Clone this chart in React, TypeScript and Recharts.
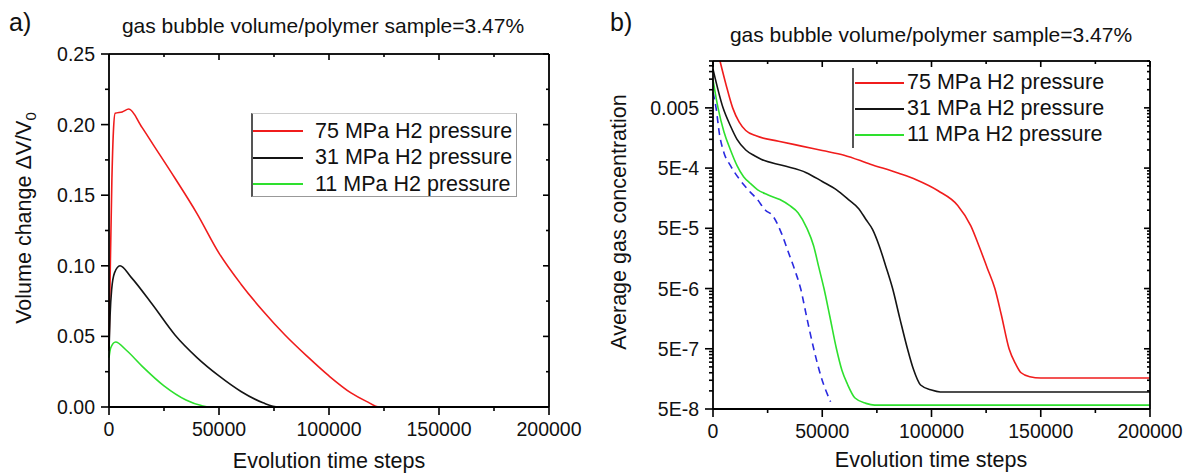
import React from 'react';
import { LineChart, Line, XAxis, YAxis, Legend } from 'recharts';

const FONT = '"Liberation Sans", Arial, Helvetica, sans-serif';

// a) volume change dV/V0 against evolution time steps, [t, value]
const vol75 = [
  [0, 0.04], [600, 0.1], [1300, 0.16], [2000, 0.195], [2800, 0.208], [6000, 0.209],
  [9000, 0.211], [15000, 0.198], [20000, 0.186], [30000, 0.162], [40000, 0.137],
  [50000, 0.109], [60000, 0.087], [70000, 0.068], [80000, 0.051], [90000, 0.036],
  [100000, 0.022], [110000, 0.01], [117000, 0.004], [123000, 0], [200000, 0],
];
const vol31 = [
  [0, 0.04], [500, 0.065], [1200, 0.083], [2500, 0.095], [5000, 0.1], [10000, 0.092],
  [20000, 0.072], [30000, 0.051], [40000, 0.035], [50000, 0.022], [60000, 0.011],
  [70000, 0.003], [77000, 0], [200000, 0],
];
const vol11 = [
  [0, 0.035], [800, 0.042], [3000, 0.046], [8000, 0.04], [15000, 0.029], [25000, 0.015],
  [35000, 0.005], [42000, 0.001], [46000, 0], [200000, 0],
];

// b) average gas concentration against evolution time steps, [t, value]
// (the 75 MPa curve enters the frame at the top edge)
const conc75 = [
  [3200, 0.03], [6000, 0.012], [9000, 0.005], [12000, 0.0029], [15000, 0.0021],
  [20000, 0.0017], [30000, 0.0014], [40000, 0.00117], [50000, 0.00098], [60000, 0.00082],
  [72000, 0.00058], [85000, 0.00041], [93000, 0.00032], [103000, 0.00021], [112000, 0.00012],
  [118000, 5.5e-5], [122000, 2.4e-5], [125500, 1.1e-5], [129000, 5e-6], [132000, 1.8e-6],
  [135500, 5e-7], [138500, 2.8e-7], [141000, 2e-7], [145000, 1.72e-7], [150000, 1.64e-7],
  [200000, 1.64e-7],
];
const conc31 = [
  [0, 0.022], [4600, 0.005], [8000, 0.0025], [11000, 0.0015], [15000, 0.001], [19000, 0.0008],
  [22000, 0.0007], [32000, 0.00055], [42700, 0.00042], [50000, 0.0003], [56400, 0.00022],
  [62000, 0.00015], [66800, 0.000105], [70000, 7e-5], [73000, 4.8e-5], [76000, 2.6e-5],
  [79000, 1.2e-5], [82200, 5e-6], [85500, 1.6e-6], [89000, 5e-7], [91700, 2.3e-7],
  [95000, 1.25e-7], [100000, 1.03e-7], [104000, 9.6e-8], [200000, 9.6e-8],
];
const conc11 = [
  [0, 0.0146], [2300, 0.005], [5000, 0.002], [8000, 0.001], [11000, 0.00055], [14000, 0.00036],
  [17000, 0.00028], [20300, 0.00022], [25000, 0.00018], [30600, 0.00015], [35000, 0.00012],
  [39000, 9e-5], [43000, 5e-5], [46000, 2.6e-5], [48500, 1.1e-5], [50800, 5e-6],
  [53500, 1.7e-6], [56500, 5e-7], [59000, 2.2e-7], [61500, 1.3e-7], [65000, 7.6e-8],
  [70000, 6.2e-8], [74000, 5.8e-8], [200000, 5.8e-8],
];
const concDashed = [
  [0, 0.009], [1400, 0.005], [3000, 0.0018], [5000, 0.0009], [8000, 0.00055], [12000, 0.00033],
  [16000, 0.00022], [20300, 0.00015], [24000, 0.0001], [27200, 8.2e-5], [31500, 4e-5],
  [34500, 2e-5], [37500, 1e-5], [40100, 5e-6], [43000, 1.6e-6], [46100, 5e-7],
  [49500, 1.7e-7], [53800, 6.6e-8],
];

const seriesNames = ['75 MPa H2 pressure', '31 MPa H2 pressure', '11 MPa H2 pressure'];
const seriesColors = ['#f01c1c', '#141414', '#2ee02e'];
const dashedColor = '#2a2ae0';

const timeTicks = [0, 50000, 100000, 150000, 200000];
const timeMinor = [25000, 75000, 125000, 175000];
const volTicks = [0, 0.05, 0.1, 0.15, 0.2, 0.25];
const volTickLabels = ['0.00', '0.05', '0.10', '0.15', '0.20', '0.25'];
const volMinor = [0.025, 0.075, 0.125, 0.175, 0.225];
const concTicks = [5e-8, 5e-7, 5e-6, 5e-5, 5e-4, 0.005];
const concTickLabels = ['5E-8', '5E-7', '5E-6', '5E-5', '5E-4', '0.005'];
const concTop = 0.03;
const concMinorFactors = [2, 3, 4, 5, 6, 7, 8, 9];
const concMinor = concTicks.flatMap((m) => concMinorFactors.map((k) => m * k)).filter((v) => v < concTop);

const toPts = (arr: number[][]) => arr.map(([t, v]) => ({ t, v }));

const TICK_FS = 19.5;
const AXIS = { stroke: '#000', strokeWidth: 1.8 };
const TW = 1.6;
const FW = 1.8;

// plot boxes (px) of the two panels
const A_W = 440;
const A_H = 353;
const B_W = 437;
const B_H = 348;

// y ticks: outward on the left axis, mirrored inward on the right edge, top edge closes the frame
const leftTick = (majors: number[], labels: string[], top: number, plotW: number) => (p: any) => {
  const v = p.payload.value;
  const i = majors.indexOf(v);
  const out = i >= 0 ? 8 : 4;
  const inn = i >= 0 ? 6 : 3;
  return (
    <g>
      <rect x={p.x - out} y={p.y - TW / 2} width={out} height={TW} fill="#000" />
      <rect x={p.x + plotW - inn} y={p.y - TW / 2} width={inn} height={TW} fill="#000" />
      {v === top && <rect x={p.x} y={p.y - FW / 2} width={plotW} height={FW} fill="#000" />}
      {i >= 0 && (
        <text x={p.x - 14} y={p.y + 7} textAnchor="end" fontSize={TICK_FS} fontFamily={FONT} fill="#111">
          {labels[i]}
        </text>
      )}
    </g>
  );
};

// x ticks: outward on the bottom axis, mirrored inward on the top edge, last tick closes the frame
const bottomTick = (plotH: number) => (p: any) => {
  const v = p.payload.value;
  const major = timeTicks.includes(v);
  const out = major ? 8 : 4;
  const inn = major ? 6 : 3;
  return (
    <g>
      <rect x={p.x - TW / 2} y={p.y} width={TW} height={out} fill="#000" />
      <rect x={p.x - TW / 2} y={p.y - plotH} width={TW} height={inn} fill="#000" />
      {v === 200000 && <rect x={p.x - FW / 2} y={p.y - plotH} width={FW} height={plotH} fill="#000" />}
      {major && (
        <text x={p.x} y={p.y + 29} textAnchor="middle" fontSize={TICK_FS} fontFamily={FONT} fill="#111">
          {v}
        </text>
      )}
    </g>
  );
};

interface LegendOpts {
  w: number;
  h: number;
  row: number;
  padTop: number;
  lineX: number;
  lineW: number;
  gap: number;
  box: boolean;
}

const makeLegend = (o: LegendOpts) => (props: any) => {
  const items = (props.payload || [])
    .filter((e: any) => seriesNames.includes(e.value))
    .sort((a: any, b: any) => seriesNames.indexOf(a.value) - seriesNames.indexOf(b.value));
  return (
    <div
      style={{
        width: o.w,
        height: o.h,
        boxSizing: 'border-box',
        borderLeft: '2px solid #555',
        borderRight: o.box ? '1px solid #999' : 'none',
        borderBottom: o.box ? '1px solid #999' : 'none',
        borderTop: o.box ? '1px solid #ccc' : 'none',
        paddingTop: o.padTop,
        fontFamily: FONT,
      }}
    >
      {items.map((e: any) => (
        <div key={e.value} style={{ display: 'flex', alignItems: 'center', height: o.row }}>
          <svg width={o.lineW} height={6} style={{ marginLeft: o.lineX, flex: 'none' }}>
            <line x1={0} y1={3} x2={o.lineW} y2={3} stroke={e.color} strokeWidth={2} />
          </svg>
          <span style={{ marginLeft: o.gap, fontSize: 21.5, color: '#111', whiteSpace: 'nowrap', lineHeight: 1 }}>
            {e.value}
          </span>
        </div>
      ))}
    </div>
  );
};

const legendA = makeLegend({ w: 266, h: 84, row: 26.5, padTop: 4, lineX: 0, lineW: 50, gap: 12, box: true });
const legendB = makeLegend({ w: 270, h: 80, row: 26, padTop: 2, lineX: 1, lineW: 49, gap: 3, box: false });

const textStyle = { fontFamily: FONT, fill: '#111' };

export default function App() {
  const volData = [vol75, vol31, vol11].map(toPts);
  const concData = [conc75, conc31, conc11].map(toPts);

  return (
    <div style={{ position: 'absolute', left: 0, top: 0, width: 1185, height: 473, overflow: 'hidden', background: '#fff' }}>
      <svg width={1185} height={473} style={{ position: 'absolute', left: 0, top: 0 }}>
        <text x={9} y={31} fontSize={25} {...textStyle}>a)</text>
        <text x={610} y={31} fontSize={25} {...textStyle}>b)</text>
        <text x={323} y={33} fontSize={21} textAnchor="middle" {...textStyle}>
          gas bubble volume/polymer sample=3.47%
        </text>
        <text x={931} y={42} fontSize={21} textAnchor="middle" {...textStyle}>
          gas bubble volume/polymer sample=3.47%
        </text>
        <text transform="translate(31,218) rotate(-90)" fontSize={21.5} textAnchor="middle" {...textStyle}>
          Volume change ΔV/V<tspan fontSize={15} dy={5}>0</tspan>
        </text>
        <text transform="translate(626,222) rotate(-90)" fontSize={21.5} textAnchor="middle" {...textStyle}>
          Average gas concentration
        </text>
        <text x={329} y={468} fontSize={21.5} textAnchor="middle" {...textStyle}>Evolution time steps</text>
        <text x={931} y={467} fontSize={21.5} textAnchor="middle" {...textStyle}>Evolution time steps</text>
      </svg>

      <div style={{ position: 'absolute', left: 0, top: 0 }}>
        <LineChart width={600} height={473} margin={{ top: 54, right: 51, bottom: 0, left: 0 }}>
          <XAxis
            xAxisId="b"
            dataKey="t"
            type="number"
            domain={[0, 200000]}
            ticks={[...timeTicks, ...timeMinor]}
            interval={0}
            tickSize={0}
            tickMargin={0}
            tickLine={false}
            axisLine={AXIS}
            height={66}
            tick={bottomTick(A_H)}
          />
          <YAxis
            yAxisId="l"
            type="number"
            domain={[0, 0.25]}
            ticks={[...volTicks, ...volMinor]}
            interval={0}
            tickSize={0}
            tickMargin={0}
            tickLine={false}
            axisLine={AXIS}
            width={109}
            tick={leftTick(volTicks, volTickLabels, 0.25, A_W)}
          />
          {volData.map((d, i) => (
            <Line
              key={seriesNames[i]}
              xAxisId="b"
              yAxisId="l"
              data={d}
              dataKey="v"
              name={seriesNames[i]}
              type="monotone"
              stroke={seriesColors[i]}
              strokeWidth={1.6}
              dot={false}
              activeDot={false}
              isAnimationActive={false}
            />
          ))}
          <Legend
            layout="vertical"
            align="center"
            verticalAlign="middle"
            wrapperStyle={{ left: 251, top: 113, width: 266, height: 84 }}
            content={legendA}
          />
        </LineChart>
      </div>

      <div style={{ position: 'absolute', left: 600, top: 0 }}>
        <LineChart width={585} height={473} margin={{ top: 61, right: 35, bottom: 0, left: 0 }}>
          <XAxis
            xAxisId="b"
            dataKey="t"
            type="number"
            domain={[0, 200000]}
            ticks={[...timeTicks, ...timeMinor]}
            interval={0}
            tickSize={0}
            tickMargin={0}
            tickLine={false}
            axisLine={AXIS}
            height={64}
            tick={bottomTick(B_H)}
          />
          <YAxis
            yAxisId="l"
            type="number"
            scale="log"
            domain={[5e-8, concTop]}
            ticks={[...concTicks, ...concMinor, concTop]}
            interval={0}
            tickSize={0}
            tickMargin={0}
            tickLine={false}
            axisLine={AXIS}
            width={113}
            tick={leftTick(concTicks, concTickLabels, concTop, B_W)}
          />
          {concData.map((d, i) => (
            <Line
              key={seriesNames[i]}
              xAxisId="b"
              yAxisId="l"
              data={d}
              dataKey="v"
              name={seriesNames[i]}
              type="monotone"
              stroke={seriesColors[i]}
              strokeWidth={1.6}
              dot={false}
              activeDot={false}
              isAnimationActive={false}
            />
          ))}
          <Line
            xAxisId="b"
            yAxisId="l"
            data={toPts(concDashed)}
            dataKey="v"
            name="dashed"
            legendType="none"
            type="monotone"
            stroke={dashedColor}
            strokeWidth={1.6}
            strokeDasharray="7 5"
            dot={false}
            activeDot={false}
            isAnimationActive={false}
          />
          <Legend
            layout="vertical"
            align="center"
            verticalAlign="middle"
            wrapperStyle={{ left: 252, top: 68, width: 270, height: 80 }}
            content={legendB}
          />
        </LineChart>
      </div>
    </div>
  );
}
